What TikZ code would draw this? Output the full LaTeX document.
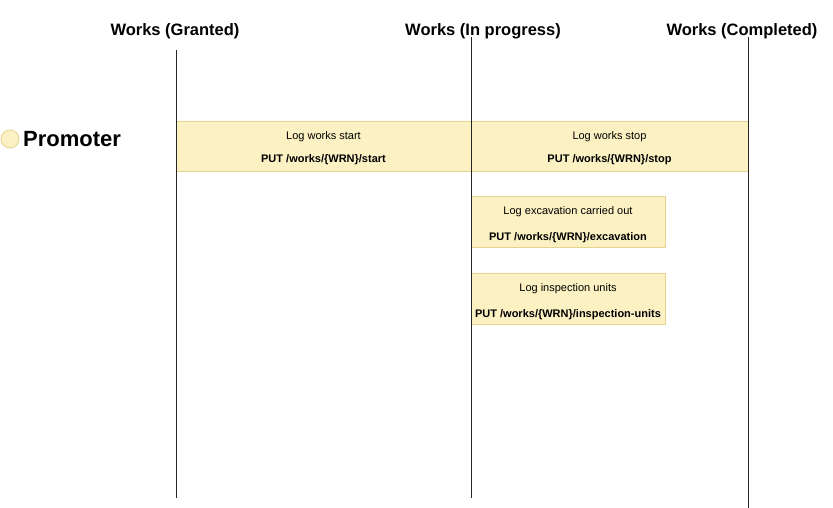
\documentclass[tikz,border=0pt]{standalone}
\usepackage{fontspec}
\setmainfont{Liberation Sans}
\definecolor{boxfill}{HTML}{FCF1C3}
\definecolor{boxline}{HTML}{E6D38E}
\begin{document}
\begin{tikzpicture}[x=1pt,y=-1pt,
  lane/.style={line width=0.8pt,black!85},
  head/.style={font=\bfseries\fontsize{16.5}{18}\selectfont,inner sep=0pt},
  evbox/.style={draw=boxline,fill=boxfill,line width=0.8pt,inner sep=0pt},
  small/.style={font=\fontsize{11}{13}\selectfont,inner sep=0pt},
  smallb/.style={font=\bfseries\fontsize{11}{13}\selectfont,inner sep=0pt}]
\useasboundingbox (0,0) rectangle (833,508);
% headers
\node[head] (h1) at (175,31.5) {Works (Granted)};
\node[head] (h2) at (483,31.5) {Works (In progress)};
\node[head] (h3) at (742,31.5) {Works (Completed)};
% boxes
\node[evbox,minimum width=295,minimum height=50] (b1) at (323.5,146) {};
\node[evbox,minimum width=277,minimum height=50] (b2) at (609.5,146) {};
\node[evbox,minimum width=194,minimum height=51] (b3) at (568,221.5) {};
\node[evbox,minimum width=194,minimum height=51] (b4) at (568,298.5) {};
% lanes
\coordinate (l1t) at (176,50); \coordinate (l1b) at (176,498);
\coordinate (l2t) at (471,37); \coordinate (l2b) at (471,498);
\coordinate (l3t) at (748,37); \coordinate (l3b) at (748,508);
\draw[lane] (l1t) -- (l1b);
\draw[lane] (l2t) -- (l2b);
\draw[lane] (l3t) -- (l3b);
% texts
\node[small] (t1) at (323.5,136.5) {Log works start};
\node[smallb] (p1) at (323.5,159.5) {PUT /works/\{WRN\}/start};
\node[small] (t2) at (609.5,136.5) {Log works stop};
\node[smallb] (p2) at (609.5,159.5) {PUT /works/\{WRN\}/stop};
\node[small] (t3) at (568,211.5) {Log excavation carried out};
\node[smallb] (p3) at (568,237.5) {PUT /works/\{WRN\}/excavation};
\node[small] (t4) at (568,288.5) {Log inspection units};
\node[smallb] (p4) at (568,314.5) {PUT /works/\{WRN\}/inspection-units};
% actor
\node[circle,draw=boxline,fill=boxfill,line width=0.8pt,minimum size=18,inner sep=0pt] (c) at (10,139) {};
\node[font=\bfseries\fontsize{22}{24}\selectfont,inner sep=0pt,anchor=west] (pr) at (23,139.5) {Promoter};
\end{tikzpicture}
\end{document}
